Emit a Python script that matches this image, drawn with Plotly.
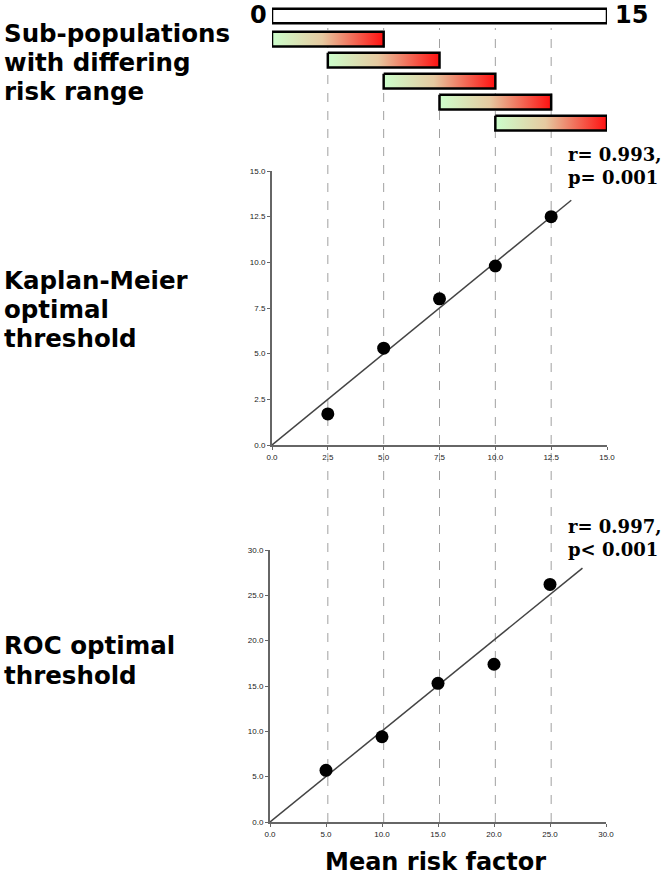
import plotly.graph_objects as go

# ---- data ----
full_range = [0, 15]
subpop_start = [0, 2.5, 5, 7.5, 10]
subpop_end = [5, 7.5, 10, 12.5, 15]
subpop_row = [1.1, 2.1, 3.1, 4.1, 5.1]

km_x = [2.5, 5.0, 7.5, 10.0, 12.5]
km_y = [1.7, 5.3, 8.0, 9.8, 12.5]
km_fit_x = [0, 13.4]
km_fit_y = [0, 13.4]

roc_x = [5.0, 10.0, 15.0, 20.0, 25.0]
roc_y = [5.7, 9.4, 15.3, 17.4, 26.2]
roc_fit_x = [0, 27.9]
roc_fit_y = [0, 28.0]

km_ticks = [0, 2.5, 5, 7.5, 10, 12.5, 15]
roc_ticks = [0, 5, 10, 15, 20, 25, 30]

label_subpop = ["Sub-populations", "with differing", "risk range"]
label_km = ["Kaplan-Meier", "optimal", "threshold"]
label_roc = ["ROC optimal", "threshold"]
label_x = "Mean risk factor"
stat_km = ["r= 0.993,", "p= 0.001"]
stat_roc = ["r= 0.997,", "p< 0.001"]

W, H = 670, 879
def px(x): return x / W
def py(y): return 1 - y / H

XDOM = [px(272), px(607)]
HALF = 0.35

fig = go.Figure()

# full range bar
fx0, fx1 = full_range
fig.add_trace(go.Scatter(
    x=[fx0, fx1, fx1, fx0, fx0], y=[-HALF, -HALF, HALF, HALF, -HALF],
    mode="lines", fill="toself", fillcolor="white",
    line=dict(color="black", width=2.5), xaxis="x", yaxis="y",
    hoverinfo="skip", showlegend=False))

# sub-population gradient bars
for s, e, r in zip(subpop_start, subpop_end, subpop_row):
    fig.add_trace(go.Scatter(
        x=[s, e, e, s, s], y=[r - HALF, r - HALF, r + HALF, r + HALF, r - HALF],
        mode="lines", fill="toself",
        fillgradient=dict(type="horizontal",
                          colorscale=[[0, "#ccffcc"], [0.45, "#e6c9a0"], [1, "#ff1010"]]),
        line=dict(color="black", width=2.5), xaxis="x", yaxis="y",
        hoverinfo="skip", showlegend=False))

# KM plot
fig.add_trace(go.Scatter(x=km_fit_x, y=km_fit_y, mode="lines",
                         line=dict(color="#444", width=1.5),
                         xaxis="x2", yaxis="y2", showlegend=False))
fig.add_trace(go.Scatter(x=km_x, y=km_y, mode="markers",
                         marker=dict(color="black", size=13),
                         xaxis="x2", yaxis="y2", showlegend=False))

# ROC plot
fig.add_trace(go.Scatter(x=roc_fit_x, y=roc_fit_y, mode="lines",
                         line=dict(color="#444", width=1.5),
                         xaxis="x3", yaxis="y3", showlegend=False))
fig.add_trace(go.Scatter(x=roc_x, y=roc_y, mode="markers",
                         marker=dict(color="black", size=13),
                         xaxis="x3", yaxis="y3", showlegend=False))

tickfont = dict(family="Liberation Sans Narrow, Liberation Sans, Arial", size=8, color="#222")
axcommon = dict(showgrid=False, zeroline=False, showline=True, linecolor="#666",
                linewidth=2, ticks="outside", ticklen=3, tickwidth=1, tickcolor="#666",
                tickfont=tickfont, tickformat=".1f", automargin=False)

# dashed guide lines
shapes = []
for xv in km_x:
    shapes.append(dict(type="line", xref="x2", yref="paper", x0=xv, x1=xv,
                       y0=py(822), y1=py(28), layer="below",
                       line=dict(color="#a0a0a0", width=1, dash="dash")))

bold = dict(family="DejaVu Sans", size=24.5, color="black")
serif = dict(family="DejaVu Serif", size=18, color="black")
def ann(text, x, y, font, xanchor="left", align="left"):
    return dict(text=text, x=px(x), y=py(y), xref="paper", yref="paper",
                xanchor=xanchor, yanchor="middle", align=align,
                showarrow=False, font=font)

annotations = []
for t, yy in zip(label_subpop, [33, 62, 91]):
    annotations.append(ann(f"<b>{t}</b>", 2, yy, bold))
for t, yy in zip(label_km, [280, 309, 338]):
    annotations.append(ann(f"<b>{t}</b>", 2, yy, bold))
for t, yy in zip(label_roc, [645, 675]):
    annotations.append(ann(f"<b>{t}</b>", 2, yy, bold))
annotations.append(ann(f"<b>{label_x}</b>", 436, 862,
                       dict(family="DejaVu Sans", size=24, color="black"),
                       xanchor="center", align="center"))
annotations.append(ann(f"<b>{full_range[0]}</b>", 258, 15,
                       dict(family="DejaVu Sans", size=24, color="black"), xanchor="center"))
annotations.append(ann(f"<b>{full_range[1]}</b>", 631, 15,
                       dict(family="DejaVu Sans", size=24, color="black"), xanchor="center"))
annotations.append(ann("<b>" + "<br>".join(stat_km) + "</b>", 566, 166, serif))
annotations.append(ann("<b>" + "<br>".join(stat_roc) + "</b>", 566, 538, serif))

fig.update_layout(
    width=W, height=H, margin=dict(l=0, r=0, t=0, b=0, autoexpand=False),
    paper_bgcolor="white", plot_bgcolor="rgba(0,0,0,0)",
    showlegend=False,
    xaxis=dict(domain=XDOM, range=[0, 15], visible=False, anchor="y"),
    yaxis=dict(domain=[py(140), 1], range=[(140 - 16) / 21, -16 / 21], visible=False, anchor="x"),
    xaxis2=dict(domain=XDOM, range=[0, 15], tickvals=km_ticks, anchor="y2", **axcommon),
    yaxis2=dict(domain=[py(445), py(171)], range=[0, 15], tickvals=km_ticks, anchor="x2", **axcommon),
    xaxis3=dict(domain=[px(270), px(606)], range=[0, 30], tickvals=roc_ticks, anchor="y3", **axcommon),
    yaxis3=dict(domain=[py(822), py(550)], range=[0, 30], tickvals=roc_ticks, anchor="x3", **axcommon),
    shapes=shapes, annotations=annotations,
)

fig.write_html("out.html", config={"displayModeBar": False},
               post_script="document.body.style.margin='0px';document.body.style.overflow='hidden';")
